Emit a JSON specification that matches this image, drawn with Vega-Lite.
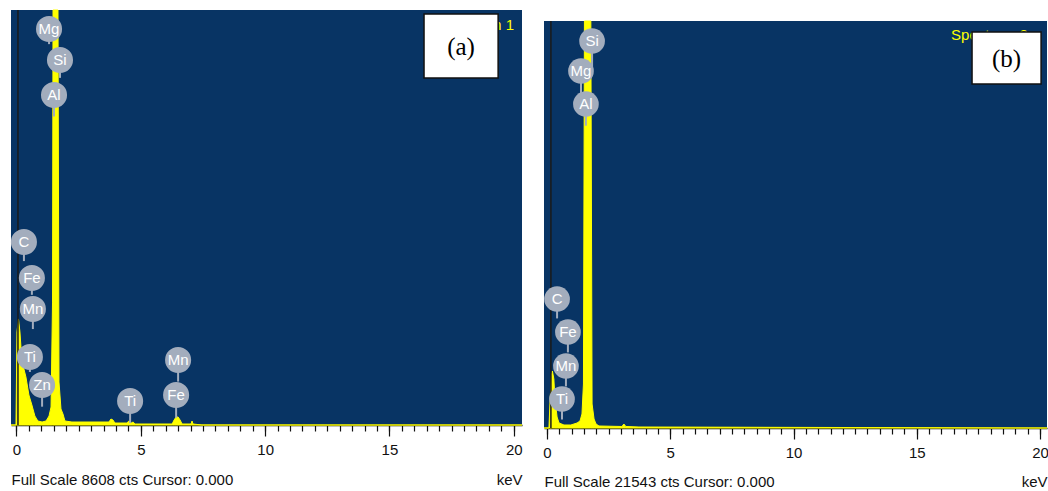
{
  "$schema": "https://vega.github.io/schema/vega-lite/v6.json",
  "background": "white",
  "padding": {"left": 9, "top": 8, "right": 0, "bottom": 0},
  "config": {
    "font": "Liberation Sans",
    "view": {"fill": "#083464", "stroke": null},
    "axis": {"domainColor": "#111111", "domainWidth": 1.5, "tickColor": "#111111", "tickWidth": 1.2, "labelColor": "#111111", "labelFontSize": 15, "labelFont": "Liberation Sans", "titleColor": "#111111", "titleFontSize": 15, "titleFontWeight": "normal", "titleFont": "Liberation Sans", "grid": false}
  },
  "spacing": 18,
  "bounds": "full",
  "hconcat": [
    {
      "width": 511,
      "height": 415,
      "resolve": {"axis": {"x": "independent"}},
      "layer": [
        {
          "data": {"values": [
            {"keV": -0.22, "cts": 0}, {"keV": -0.02, "cts": 0}, {"keV": 0.02, "cts": 1930}, {"keV": 0.08, "cts": 2200}, {"keV": 0.14, "cts": 1930}, {"keV": 0.22, "cts": 1307}, {"keV": 0.30, "cts": 1161}, {"keV": 0.38, "cts": 996}, {"keV": 0.50, "cts": 622}, {"keV": 0.62, "cts": 415}, {"keV": 0.74, "cts": 187}, {"keV": 0.86, "cts": 83}, {"keV": 1.03, "cts": 62}, {"keV": 1.19, "cts": 83}, {"keV": 1.31, "cts": 187}, {"keV": 1.39, "cts": 373}, {"keV": 1.45, "cts": 2550}, {"keV": 1.47, "cts": 12000}, {"keV": 1.67, "cts": 12000}, {"keV": 1.71, "cts": 892}, {"keV": 1.79, "cts": 332}, {"keV": 1.87, "cts": 228}, {"keV": 1.95, "cts": 83}, {"keV": 2.23, "cts": 62}, {"keV": 3.72, "cts": 62}, {"keV": 3.80, "cts": 124}, {"keV": 3.88, "cts": 104}, {"keV": 3.96, "cts": 41}, {"keV": 4.44, "cts": 41}, {"keV": 4.52, "cts": 83}, {"keV": 4.61, "cts": 41}, {"keV": 4.69, "cts": 62}, {"keV": 4.77, "cts": 21}, {"keV": 6.26, "cts": 21}, {"keV": 6.34, "cts": 104}, {"keV": 6.42, "cts": 166}, {"keV": 6.50, "cts": 166}, {"keV": 6.58, "cts": 104}, {"keV": 6.66, "cts": 21}, {"keV": 7.02, "cts": 21}, {"keV": 7.06, "cts": 83}, {"keV": 7.10, "cts": 21}, {"keV": 7.46, "cts": 0}, {"keV": 20.33, "cts": 0}
          ]},
          "mark": {"type": "area", "color": "#ffff00", "stroke": "#ffff00", "strokeWidth": 1, "interpolate": "linear"},
          "encoding": {
            "x": {"field": "keV", "type": "quantitative", "scale": {"domain": [-0.22, 20.33], "nice": false, "zero": false},
              "axis": {"orient": "bottom", "values": [0,0.5,1,1.5,2,2.5,3,3.5,4,4.5,5,5.5,6,6.5,7,7.5,8,8.5,9,9.5,10,10.5,11,11.5,12,12.5,13,13.5,14,14.5,15,15.5,16,16.5,17,17.5,18,18.5,19,19.5,20], "labels": false, "tickSize": 6, "title": "Full Scale 8608 cts Cursor: 0.000", "titleAnchor": "start", "titleAlign": "left", "titleBaseline": "alphabetic", "titleY": 59}},
            "y": {"field": "cts", "type": "quantitative", "scale": {"domain": [0, 8608], "nice": false, "clamp": true}, "axis": null}
          }
        },
        {
          "data": {"values": [{"keV": 0.06}]},
          "mark": {"type": "rule", "color": "#1a1a1a", "strokeWidth": 1.5},
          "encoding": {
            "x": {"field": "keV", "type": "quantitative",
              "axis": {"orient": "bottom", "values": [0, 5, 10, 15, 20], "tickSize": 11, "labelPadding": 6, "domain": false, "title": "keV", "titleAnchor": "end", "titleAlign": "right", "titleBaseline": "alphabetic", "titleY": 59}}
          }
        },
        {
          "data": {"values": [
            {"el": "Mg", "keV": 1.31, "cts": 8213, "stem": 7900},
            {"el": "Si", "keV": 1.75, "cts": 7570, "stem": 7200},
            {"el": "Al", "keV": 1.51, "cts": 6844, "stem": 6400},
            {"el": "C", "keV": 0.30, "cts": 3795, "stem": 3400},
            {"el": "Fe", "keV": 0.62, "cts": 3049, "stem": 2700},
            {"el": "Mn", "keV": 0.66, "cts": 2406, "stem": 1990},
            {"el": "Ti", "keV": 0.54, "cts": 1410, "stem": 1100},
            {"el": "Zn", "keV": 1.03, "cts": 830, "stem": 380},
            {"el": "Ti", "keV": 4.57, "cts": 498, "stem": 40},
            {"el": "Mn", "keV": 6.50, "cts": 1348, "stem": 900},
            {"el": "Fe", "keV": 6.42, "cts": 622, "stem": 150}
          ]},
          "layer": [
            {"mark": {"type": "rule", "color": "#a3adbd", "strokeWidth": 2},
             "encoding": {"x": {"field": "keV", "type": "quantitative", "axis": null}, "y": {"field": "cts", "type": "quantitative", "axis": null}, "y2": {"field": "stem"}}},
            {"mark": {"type": "point", "filled": true, "shape": "circle", "size": 680, "color": "#a3adbd", "opacity": 1},
             "encoding": {"x": {"field": "keV", "type": "quantitative", "axis": null}, "y": {"field": "cts", "type": "quantitative", "axis": null}}},
            {"mark": {"type": "text", "color": "white", "fontSize": 15, "baseline": "middle", "align": "center"},
             "encoding": {"x": {"field": "keV", "type": "quantitative", "axis": null}, "y": {"field": "cts", "type": "quantitative", "axis": null}, "text": {"field": "el"}}}
          ]
        },
        {
          "data": {"values": [{"keV": 20.01, "cts": 8192, "t": "Spectrum 1"}]},
          "mark": {"type": "text", "color": "#ffff00", "fontSize": 15, "align": "right", "baseline": "alphabetic"},
          "encoding": {"x": {"field": "keV", "type": "quantitative", "axis": null}, "y": {"field": "cts", "type": "quantitative", "axis": null}, "text": {"field": "t"}}
        },
        {
          "data": {"values": [{"x1": 16.39, "x2": 19.37, "y1": 8524, "y2": 7197, "xm": 17.88, "ym": 7840, "t": "(a)"}]},
          "layer": [
            {"mark": {"type": "rect", "fill": "white", "stroke": "#111111", "strokeWidth": 1.5},
             "encoding": {"x": {"field": "x1", "type": "quantitative", "axis": null}, "x2": {"field": "x2"}, "y": {"field": "y1", "type": "quantitative", "axis": null}, "y2": {"field": "y2"}}},
            {"mark": {"type": "text", "font": "Liberation Serif", "fontSize": 25, "color": "black", "align": "center", "baseline": "middle"},
             "encoding": {"x": {"field": "xm", "type": "quantitative", "axis": null}, "y": {"field": "ym", "type": "quantitative", "axis": null}, "text": {"field": "t"}}}
          ]
        }
      ]
    },
    {
      "spacing": 8,
      "vconcat": [
        {
          "width": 503,
          "height": 1,
          "view": {"fill": "white", "stroke": null},
          "data": {"values": []},
          "mark": "point"
        },
        {
          "width": 503,
          "height": 407,
          "resolve": {"axis": {"x": "independent"}},
          "layer": [
            {
              "data": {"values": [
                {"keV": -0.12, "cts": 0}, {"keV": 0.08, "cts": 0}, {"keV": 0.12, "cts": 1270}, {"keV": 0.18, "cts": 2800}, {"keV": 0.22, "cts": 3017}, {"keV": 0.28, "cts": 2594}, {"keV": 0.32, "cts": 1641}, {"keV": 0.41, "cts": 582}, {"keV": 0.49, "cts": 265}, {"keV": 0.69, "cts": 159}, {"keV": 0.97, "cts": 159}, {"keV": 1.22, "cts": 265}, {"keV": 1.34, "cts": 370}, {"keV": 1.42, "cts": 741}, {"keV": 1.48, "cts": 2329}, {"keV": 1.52, "cts": 30000}, {"keV": 1.78, "cts": 30000}, {"keV": 1.83, "cts": 1270}, {"keV": 1.91, "cts": 476}, {"keV": 1.99, "cts": 212}, {"keV": 2.11, "cts": 106}, {"keV": 3.04, "cts": 80}, {"keV": 3.12, "cts": 212}, {"keV": 3.20, "cts": 80}, {"keV": 3.73, "cts": 53}, {"keV": 20.28, "cts": 0}
              ]},
              "mark": {"type": "area", "color": "#ffff00", "stroke": "#ffff00", "strokeWidth": 1, "interpolate": "linear"},
              "encoding": {
                "x": {"field": "keV", "type": "quantitative", "scale": {"domain": [-0.12, 20.28], "nice": false, "zero": false},
                  "axis": {"orient": "bottom", "values": [0,0.5,1,1.5,2,2.5,3,3.5,4,4.5,5,5.5,6,6.5,7,7.5,8,8.5,9,9.5,10,10.5,11,11.5,12,12.5,13,13.5,14,14.5,15,15.5,16,16.5,17,17.5,18,18.5,19,19.5,20], "labels": false, "tickSize": 6, "title": "Full Scale 21543 cts Cursor: 0.000", "titleAnchor": "start", "titleAlign": "left", "titleBaseline": "alphabetic", "titleY": 58}},
                "y": {"field": "cts", "type": "quantitative", "scale": {"domain": [0, 21543], "nice": false, "clamp": true}, "axis": null}
              }
            },
            {
              "data": {"values": [{"keV": 0.16}]},
              "mark": {"type": "rule", "color": "#1a1a1a", "strokeWidth": 1.5},
              "encoding": {
                "x": {"field": "keV", "type": "quantitative",
                  "axis": {"orient": "bottom", "values": [0, 5, 10, 15, 20], "tickSize": 11, "labelPadding": 6, "domain": false, "title": "keV", "titleAnchor": "end", "titleAlign": "right", "titleBaseline": "alphabetic", "titleY": 58}}
              }
            },
            {
              "data": {"values": [
                {"el": "Si", "keV": 1.83, "cts": 20484, "stem": 19000},
                {"el": "Mg", "keV": 1.38, "cts": 18896, "stem": 17500},
                {"el": "Al", "keV": 1.58, "cts": 17149, "stem": 16000},
                {"el": "C", "keV": 0.41, "cts": 6828, "stem": 5800},
                {"el": "Fe", "keV": 0.85, "cts": 5081, "stem": 4000},
                {"el": "Mn", "keV": 0.77, "cts": 3282, "stem": 2200},
                {"el": "Ti", "keV": 0.61, "cts": 1535, "stem": 450}
              ]},
              "layer": [
                {"mark": {"type": "rule", "color": "#a3adbd", "strokeWidth": 2},
                 "encoding": {"x": {"field": "keV", "type": "quantitative", "axis": null}, "y": {"field": "cts", "type": "quantitative", "axis": null}, "y2": {"field": "stem"}}},
                {"mark": {"type": "point", "filled": true, "shape": "circle", "size": 660, "color": "#a3adbd", "opacity": 1},
                 "encoding": {"x": {"field": "keV", "type": "quantitative", "axis": null}, "y": {"field": "cts", "type": "quantitative", "axis": null}}},
                {"mark": {"type": "text", "color": "white", "fontSize": 15, "baseline": "middle", "align": "center"},
                 "encoding": {"x": {"field": "keV", "type": "quantitative", "axis": null}, "y": {"field": "cts", "type": "quantitative", "axis": null}, "text": {"field": "el"}}}
              ]
            },
            {
              "data": {"values": [{"keV": 16.39, "cts": 20537, "t": "Spectrum 2"}]},
              "mark": {"type": "text", "color": "#ffff00", "fontSize": 15, "align": "left", "baseline": "alphabetic"},
              "encoding": {"x": {"field": "keV", "type": "quantitative", "axis": null}, "y": {"field": "cts", "type": "quantitative", "axis": null}, "text": {"field": "t"}}
            },
            {
              "data": {"values": [{"x1": 17.24, "x2": 20.04, "y1": 20960, "y2": 18208, "xm": 18.64, "ym": 19531, "t": "(b)"}]},
              "layer": [
                {"mark": {"type": "rect", "fill": "white", "stroke": "#111111", "strokeWidth": 1.5},
                 "encoding": {"x": {"field": "x1", "type": "quantitative", "axis": null}, "x2": {"field": "x2"}, "y": {"field": "y1", "type": "quantitative", "axis": null}, "y2": {"field": "y2"}}},
                {"mark": {"type": "text", "font": "Liberation Serif", "fontSize": 25, "color": "black", "align": "center", "baseline": "middle"},
                 "encoding": {"x": {"field": "xm", "type": "quantitative", "axis": null}, "y": {"field": "ym", "type": "quantitative", "axis": null}, "text": {"field": "t"}}}
              ]
            }
          ]
        }
      ]
    }
  ]
}
